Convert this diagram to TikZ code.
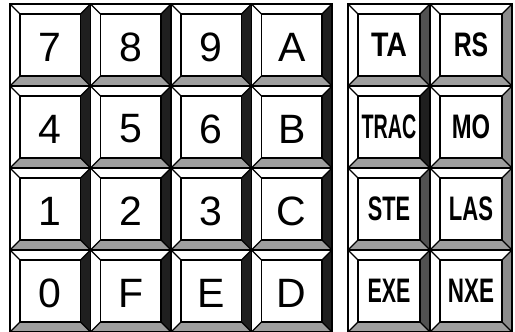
\documentclass[tikz,border=0pt]{standalone}
\usepackage{fontspec}
\setmainfont{Liberation Sans}
\newcommand\digitfont{\fontsize{41}{41}\selectfont}
\newcommand\labfont{\fontsize{34}{34}\selectfont\bfseries}
\newcommand\nar[2]{\scalebox{#1}[1]{#2}}
\tikzset{
  edge/.style={draw=black,line width=1.6pt,line join=miter},
  diag/.style={draw=black,line width=1.1pt},
  face/.style={draw=black,line width=1.4pt,fill=white,inner sep=0pt,anchor=center},
  keytext/.style={inner sep=0pt,anchor=center},
  bottomfill/.style={fill=black!38},
  darkbevel/.style={fill=black!88},
  midbevel/.style={fill=black!68},
  lightbevel/.style={fill=black!45},
  frame/.style={draw=black,line width=2.2pt}
}
% #1 x0  #2 y0  #3 x1  #4 y1  #5 right bevel style  #6 name  #7 text  #8 text shift
\newcommand\Key[8]{%
  \pgfmathsetmacro\ia{#1+10}\pgfmathsetmacro\ib{#2+10}%
  \pgfmathsetmacro\ic{#3-10}\pgfmathsetmacro\id{#4-10}%
  \pgfmathsetmacro\fw{#3-#1-20}\pgfmathsetmacro\fh{#4-#2-20}%
  \pgfmathsetmacro\cx{(#1+#3)/2}\pgfmathsetmacro\cy{(#2+#4)/2}%
  \fill[white] (#1,#2) rectangle (#3,#4);
  \fill[#5] (#3,#2) -- (\ic,\ib) -- (\ic,\id) -- (#3,#4) -- cycle;
  \fill[bottomfill] (#1,#4) -- (\ia,\id) -- (\ic,\id) -- (#3,#4) -- cycle;
  \draw[diag] (#1,#2) -- (\ia,\ib) (#3,#2) -- (\ic,\ib) (#1,#4) -- (\ia,\id) (#3,#4) -- (\ic,\id);
  \draw[edge] (#1,#2) rectangle (#3,#4);
  \node[face,minimum width=\fw pt,minimum height=\fh pt] (#6) at (\cx,\cy) {};
  \node[keytext] (#6-t) at ([yshift=#8]#6.center) {#7};
}
\begin{document}
\begin{tikzpicture}[x=1pt,y=-1pt]
\useasboundingbox (0,0) rectangle (515,332);
\fill[white] (0,0) rectangle (515,332);
% left keypad
\foreach \lab [count=\i from 0] in {7,8,9,A,4,5,6,B,1,2,3,C,0,F,E,D} {
  \pgfmathtruncatemacro\cc{mod(\i,4)}
  \pgfmathtruncatemacro\rr{div(\i,4)}
  \pgfmathsetmacro\xa{10+80.5*\cc}
  \pgfmathsetmacro\xb{10+80.5*(\cc+1)}
  \pgfmathsetmacro\ya{4+82*\rr}
  \pgfmathsetmacro\yb{4+82*(\rr+1)}
  \Key{\xa}{\ya}{\xb}{\yb}{darkbevel}{k\i}{\digitfont\lab}{-2pt}
}
% right panel
\foreach \lab/\sc/\bev [count=\i from 0] in {TA/0.84/midbevel,RS/0.73/lightbevel,TRAC/0.58/darkbevel,MO/0.7/lightbevel,STE/0.64/midbevel,LAS/0.65/lightbevel,EXE/0.63/midbevel,NXE/0.66/lightbevel} {
  \pgfmathtruncatemacro\cc{mod(\i,2)}
  \pgfmathtruncatemacro\rr{div(\i,2)}
  \pgfmathsetmacro\xa{348+82*\cc}
  \pgfmathsetmacro\xb{348+82*(\cc+1)}
  \pgfmathsetmacro\ya{4+82*\rr}
  \pgfmathsetmacro\yb{4+82*(\rr+1)}
  \Key{\xa}{\ya}{\xb}{\yb}{\bev}{r\i}{\labfont\nar{\sc}{\lab}}{0pt}
}
\draw[frame] (10,4) rectangle (332,332);
\draw[frame] (348,4) rectangle (512,332);
\end{tikzpicture}
\end{document}
